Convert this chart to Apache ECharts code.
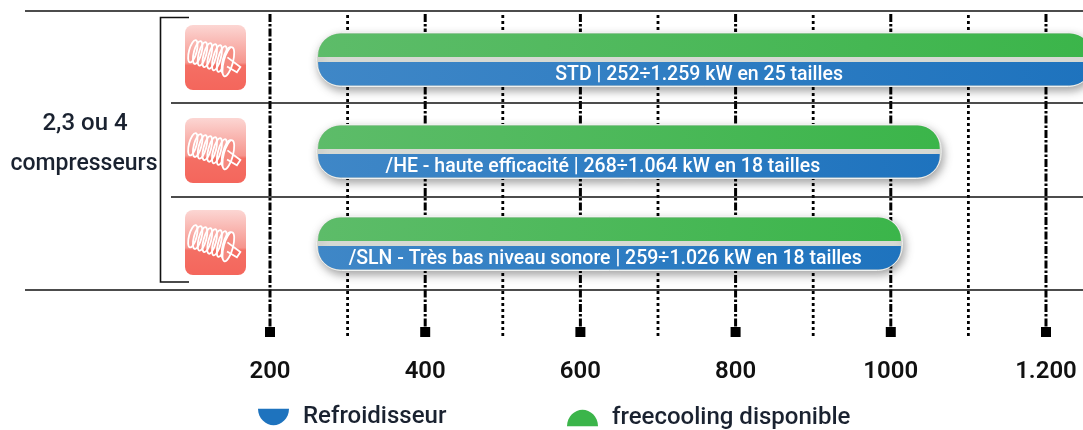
<!DOCTYPE html>
<html><head><meta charset="utf-8">
<style>html,body{margin:0;padding:0;background:#fff}#c{width:1083px;height:430px}</style>
<script src="https://cdn.jsdelivr.net/npm/echarts@6/dist/echarts.min.js"></script>
</head><body><div id="c"></div>
<script>
const rows = [0, 1, 2];
const rangeStart = [262, 262, 262];
const rangeEnd = [1259, 1063, 1013];
const rangeLabels = [
  'STD | 252÷1.259 kW en 25 tailles',
  '/HE - haute efficacité | 268÷1.064 kW en 18 tailles',
  '/SLN - Très bas niveau sonore | 259÷1.026 kW en 18 tailles'
];
const labelCentres = [753, 629, 632];
const majorTicks = [200, 400, 600, 800, 1000, 1200];
const minorTicks = [300, 500, 700, 900, 1100];
const tickLabels = { 200: '200', 400: '400', 600: '600', 800: '800', 1000: '1000', 1200: '1.200' };
const seriesNames = ['Refroidisseur', 'freecooling disponible'];
const FONT = 'Roboto';

const chart = echarts.init(document.getElementById('c'), null, { renderer: 'canvas' });

function grad(a, b) { return new echarts.graphic.LinearGradient(0, 0, 1, 0, [{ offset: 0, color: a }, { offset: 1, color: b }]); }

function pill(part) {
  return function (params, api) {
    const i = params.dataIndex;
    const y = api.value(0), s = api.value(1), e = api.value(2);
    const a = api.coord([s, y]), b = api.coord([e, y]);
    const cy = a[1], x0 = a[0], w = b[0] - a[0];
    if (part === 'base') {
      return { type: 'rect', z2: 0, shape: { x: x0 - 1.5, y: cy - 27, width: w + 3, height: 54, r: 25 },
        style: { fill: '#d6d9d3', stroke: '#f0f2f0', lineWidth: 1, shadowBlur: 9, shadowColor: 'rgba(0,0,0,0.35)', shadowOffsetX: 2, shadowOffsetY: 4 } };
    }
    if (part === 'green') {
      return { type: 'rect', z2: 1, shape: { x: x0, y: cy - 26, width: w, height: 23.5, r: [22, 22, 0, 0] },
        style: { fill: grad('#5dbc69', '#3bb54a') } };
    }
    const cx = api.coord([api.value(3), y])[0];
    return { type: 'group', z2: 1, children: [
      { type: 'rect', shape: { x: x0, y: cy + 2.5, width: w, height: 23.5, r: [0, 0, 22, 22] },
        style: { fill: grad('#3f87c7', '#1e73be') } },
      { type: 'text', z2: 3, style: { x: cx, y: cy + 15.5, text: rangeLabels[i], fill: '#fff',
          font: '500 19.5px ' + FONT, align: 'center', verticalAlign: 'middle' } }
    ] };
  };
}

const rangeData = rows.map((r, i) => [r, rangeStart[i], rangeEnd[i], labelCentres[i]]);

function gridLine(major) {
  return function (params, api) {
    const x = api.value(0);
    const p = api.coord([x, 0])[0];
    const top = major ? 14 : 15, bottom = major ? 327 : 338;
    const line = { type: 'line', shape: { x1: p, y1: top, x2: p, y2: bottom },
      style: { stroke: '#000', lineWidth: major ? 3 : 2.8, lineDash: major ? [8, 2, 2.5, 2] : [3, 3] } };
    if (!major) return line;
    return { type: 'group', children: [line,
      { type: 'rect', shape: { x: p - 5, y: 327, width: 10, height: 10 }, style: { fill: '#000' } }] };
  };
}

function icon(top) {
  const kids = [{ type: 'rect', shape: { x: 0, y: 0, width: 61, height: 65, r: 8 },
    style: { fill: new echarts.graphic.LinearGradient(0, 0, 0, 1, [
      { offset: 0, color: '#fcd6d3' }, { offset: 0.58, color: '#f6958d' },
      { offset: 0.62, color: '#f46f64' }, { offset: 1, color: '#f4665c' }]) } }];
  const coils = [];
  for (let k = 0; k < 8; k++) {
    coils.push({ type: 'ellipse', shape: { cx: 5 + k * 5, cy: 0, rx: 3.8, ry: 11.5 + k * 0.3 },
      style: { fill: 'none', stroke: '#fff', lineWidth: 1.8 } });
  }
  coils.push({ type: 'ellipse', shape: { cx: 42, cy: 1, rx: 4.6, ry: 15 }, style: { fill: '#f58a80', stroke: '#fff', lineWidth: 1.8 } });
  coils.push({ type: 'polyline', shape: { points: [[40, -3], [55, 3], [53, 9], [42, 6]] }, style: { fill: 'none', stroke: '#fff', lineWidth: 1.8 } });
  kids.push({ type: 'group', x: 3, y: 25, rotation: -0.26, children: coils });
  return { type: 'group', x: 185, y: top, children: kids };
}

function hline(x1, y) {
  return { type: 'line', z: 10, shape: { x1: x1, y1: y, x2: 1083, y2: y }, style: { stroke: '#111', lineWidth: 1.6 } };
}

chart.setOption({
  animation: false,
  backgroundColor: '#fff',
  textStyle: { fontFamily: FONT },
  grid: { left: 270, top: 11, width: 813, height: 327, containLabel: false },
  xAxis: {
    type: 'value', min: 200, max: 1247.7, interval: 200,
    axisLine: { show: false }, axisTick: { show: false }, splitLine: { show: false },
    axisLabel: { margin: 22, fontFamily: FONT, fontSize: 24, fontWeight: 600, color: '#111', showMaxLabel: false,
      hideOverlap: false, formatter: v => tickLabels[v] || '' }
  },
  yAxis: { type: 'value', inverse: true, min: -0.527, max: 3.027, show: false, splitLine: { show: false } },
  legend: [
    { data: [{ name: seriesNames[0], icon: 'path://M0 0H32C32 10 24 17 16 17C8 17 0 10 0 0Z' }], left: 258, top: 405,
      itemWidth: 31, itemHeight: 17, padding: 0, selectedMode: false,
      textStyle: { fontFamily: FONT, fontSize: 24, color: '#1a2230', fontWeight: 500, padding: [0, 0, 11, 9] } },
    { data: [{ name: seriesNames[1], icon: 'path://M0 17C0 7 8 0 16 0C24 0 32 7 32 17Z' }], left: 567, top: 406,
      itemWidth: 31, itemHeight: 17, padding: 0, selectedMode: false,
      textStyle: { fontFamily: FONT, fontSize: 24, color: '#1a2230', fontWeight: 500, padding: [2, 0, 0, 9] } }
  ],
  graphic: { elements: [
    hline(25, 11), hline(171, 103), hline(171, 197), hline(25, 290),
    { type: 'polyline', z: 10, shape: { points: [[189, 17.5], [160.5, 17.5], [160.5, 282], [189, 282]] }, style: { fill: 'none', stroke: '#111', lineWidth: 1.6 } },
    { type: 'text', z: 10, x: 85, y: 124, style: { text: '2,3 ou 4', font: '500 24px ' + FONT, fill: '#1a2230', align: 'center', verticalAlign: 'middle' } },
    { type: 'text', z: 10, x: 84, y: 164, style: { text: 'compresseurs', font: '500 23px ' + FONT, fill: '#1a2230', align: 'center', verticalAlign: 'middle' } },
    icon(25), icon(118), icon(210)
  ] },
  series: [
    { type: 'custom', name: 'major', silent: true, z: 1, clip: false, renderItem: gridLine(true), data: majorTicks.map(v => [v]), encode: { x: 0 } },
    { type: 'custom', name: 'minor', silent: true, z: 1, clip: false, renderItem: gridLine(false), data: minorTicks.map(v => [v]), encode: { x: 0 } },
    { type: 'custom', name: 'base', silent: true, z: 12, clip: false, renderItem: pill('base'), data: rangeData },
    { type: 'custom', name: seriesNames[1], silent: true, z: 13, clip: false, itemStyle: { color: '#3bb54a' }, renderItem: pill('green'), data: rangeData },
    { type: 'custom', name: seriesNames[0], silent: true, z: 13, clip: false, itemStyle: { color: '#1e73be' }, renderItem: pill('blue'), data: rangeData }
  ]
});
</script></body></html>
